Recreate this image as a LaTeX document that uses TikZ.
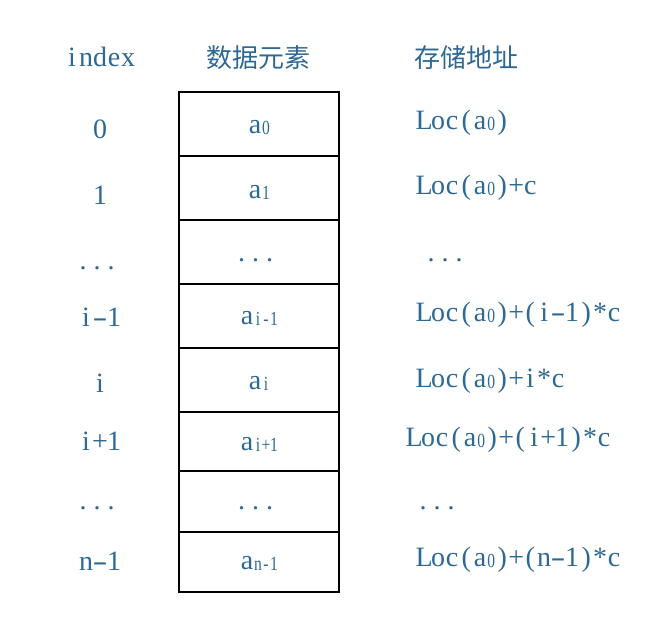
\documentclass[tikz,border=0pt]{standalone}
\usepackage{graphicx}
\usepackage{fontspec}
\setmainfont{Liberation Serif}
\newfontfamily\subf[FakeStretch=0.78]{Liberation Serif}
\newfontfamily\cjk{Noto Sans CJK SC}
\definecolor{tc}{RGB}{46,104,148}
\def\mnend{\mnend}
\def\mnloop#1{\ifx#1\mnend\else\ifx#1-\makebox[14pt]{\scalebox{1.6}[1]{-}}\else\makebox[14pt]{#1}\fi\expandafter\mnloop\fi}
\newcommand\mn[1]{\mnloop#1\mnend}
\def\sbloop#1{\ifx#1\mnend\else\makebox[8pt]{#1}\expandafter\sbloop\fi}
\newcommand\subx[1]{\raisebox{-1.2pt}{\subf\fontsize{20}{22}\selectfont\sbloop#1\mnend}}
\newcommand\dts{\makebox[14pt][l]{.}\makebox[14pt][l]{.}\makebox[14pt][l]{.}}
\tikzset{
  txt/.style={inner sep=0pt, text=tc, font=\fontsize{28}{32}\selectfont},
  cjktxt/.style={inner sep=0pt, text=tc, font=\cjk\fontsize{26}{30}\selectfont},
  cellbox/.style={draw=black, line width=1.1pt, minimum width=160pt, inner sep=0pt}
}
\begin{document}
\begin{tikzpicture}[x=1pt,y=-1pt]
\useasboundingbox (0,0) rectangle (662,619);
% cells
\node[cellbox, minimum height=64pt] (r0) at (259,124) {};
\node[cellbox, minimum height=64pt] (r1) at (259,188) {};
\node[cellbox, minimum height=64pt] (r2) at (259,252) {};
\node[cellbox, minimum height=64pt] (r3) at (259,316) {};
\node[cellbox, minimum height=64pt] (r4) at (259,380) {};
\node[cellbox, minimum height=59pt] (r5) at (259,441.5) {};
\node[cellbox, minimum height=61pt] (r6) at (259,501.5) {};
\node[cellbox, minimum height=60pt] (r7) at (259,562) {};
% headings
\node[txt, anchor=base] (hidx) at (100,66) {\mn{index}};
\node[cjktxt, anchor=base] (hdata) at (258,67) {数据元素};
\node[cjktxt, anchor=base west] (haddr) at (414,67) {存储地址};
% index column
\node[txt, anchor=base] (i0) at (100,138) {\mn{0}};
\node[txt, anchor=base] (i1) at (100,204) {\mn{1}};
\node[txt, anchor=base west] (i2) at (79.5,269) {\dts};
\node[txt, anchor=base] (i3) at (100,326) {\mn{i-1}};
\node[txt, anchor=base] (i4) at (100,392) {\mn{i}};
\node[txt, anchor=base] (i5) at (100,450) {\mn{i+1}};
\node[txt, anchor=base west] (i6) at (79.5,509) {\dts};
\node[txt, anchor=base] (i7) at (100,570) {\mn{n-1}};
% data column
\node[txt, anchor=base] (d0) at (259,133) {\mn{a}\subx{0}};
\node[txt, anchor=base] (d1) at (259,198) {\mn{a}\subx{1}};
\node[txt, anchor=base west] (d2) at (237.8,261) {\dts};
\node[txt, anchor=base] (d3) at (259,324) {\mn{a}\subx{i-1}};
\node[txt, anchor=base] (d4) at (259,389) {\mn{a}\subx{i}};
\node[txt, anchor=base] (d5) at (259,450) {\mn{a}\subx{i+1}};
\node[txt, anchor=base west] (d6) at (237.8,509) {\dts};
\node[txt, anchor=base] (d7) at (259,569) {\mn{a}\subx{n-1}};
% address column
\node[txt, anchor=base west] (l0) at (417,129) {\mn{Loc(a}\subx{0}\mn{)}};
\node[txt, anchor=base west] (l1) at (417,194) {\mn{Loc(a}\subx{0}\mn{)+c}};
\node[txt, anchor=base west] (l2) at (427.5,261) {\dts};
\node[txt, anchor=base west] (l3) at (417,321) {\mn{Loc(a}\subx{0}\mn{)+(i-1)*c}};
\node[txt, anchor=base west] (l4) at (417,387) {\mn{Loc(a}\subx{0}\mn{)+i*c}};
\node[txt, anchor=base west] (l5) at (407,446) {\mn{Loc(a}\subx{0}\mn{)+(i+1)*c}};
\node[txt, anchor=base west] (l6) at (419.5,509) {\dts};
\node[txt, anchor=base west] (l7) at (417,566) {\mn{Loc(a}\subx{0}\mn{)+(n-1)*c}};
\end{tikzpicture}
\end{document}
